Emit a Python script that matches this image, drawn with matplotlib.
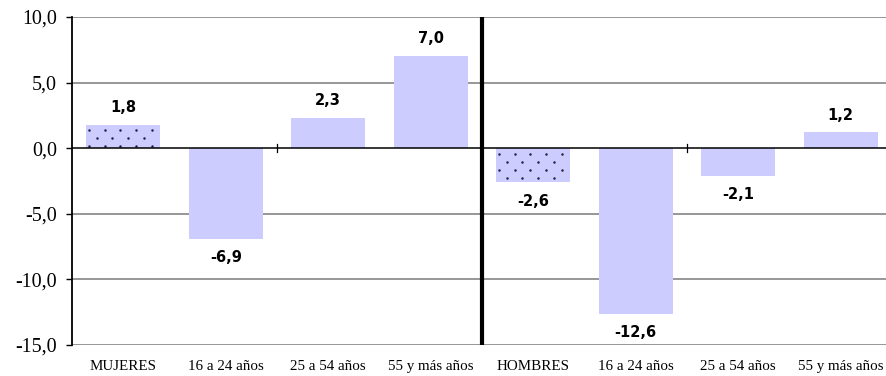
import matplotlib
matplotlib.use("Agg")
import matplotlib.pyplot as plt
import numpy as np

# Variación por sexo y grupo de edad
categories = ["MUJERES", "16 a 24 años", "25 a 54 años", "55 y más años",
              "HOMBRES", "16 a 24 años", "25 a 54 años", "55 y más años"]
values = [1.8, -6.9, 2.3, 7.0, -2.6, -12.6, -2.1, 1.2]
totals = [0, 4]          # barras de total (punteadas)
y_ticks = [-15, -10, -5, 0, 5, 10]

BAR = "#CCCCFF"
WIDTH = 0.72


def dot_fill(ax, xc, v, dx=0.153, dy=0.61):
    """Relleno punteado al tresbolillo dentro de una barra."""
    left, right = xc - WIDTH / 2, xc + WIDTH / 2
    rows = np.arange(0.42, abs(v), dy)
    px, py = [], []
    for k, r in enumerate(rows):
        start = left + 0.025 + (dx / 2 if k % 2 else 0)
        cols = np.arange(start, right - 0.01, dx)
        px.extend(cols)
        py.extend([v - r if v > 0 else -r] * len(cols))
    ax.scatter(px, py, s=3.2, color="#222244", linewidths=0, zorder=2.5)


fig = plt.figure(figsize=(8.86, 3.76), dpi=100)
ax = fig.add_axes([72 / 886, 31 / 376, 820 / 886, 328 / 376])

x = np.arange(len(categories))
ax.bar(x, values, width=WIDTH, color=BAR, linewidth=0, zorder=2)
for i in totals:
    dot_fill(ax, x[i], values[i])

for i, v in enumerate(values):
    off = 12.5 if v > 0 else -13.5
    ax.annotate(f"{v:.1f}".replace(".", ","), (x[i], v), xytext=(0, off),
                textcoords="offset points", ha="center", va="center",
                fontsize=10.5, fontweight="bold", family="DejaVu Sans", zorder=4)

ax.set_xlim(-0.5, len(categories) - 0.5)
ax.set_ylim(-15, 10)
ax.set_yticks(y_ticks)
ax.set_yticklabels([f"{t:.1f}".replace(".", ",") for t in y_ticks],
                   family="Liberation Serif", fontsize=14.4)
ax.tick_params(axis="y", length=4.3, width=1, direction="out", pad=6.5)

ax.set_xticks(x)
ax.set_xticklabels(categories, family="Liberation Serif", fontsize=10.8)
ax.tick_params(axis="x", length=0, pad=11)

# líneas de rejilla horizontales
for t in y_ticks:
    if t == 0:
        continue
    ax.axhline(t, color="#7a7a7a", linewidth=1.1, zorder=1)
ax.axhline(0, color="black", linewidth=1.1, zorder=3)

# marcas en el eje cero entre grupos de categorías
for b in [1.5, 5.5]:
    ax.plot([b, b], [-0.3, 0.3], color="black", linewidth=0.9, zorder=3)

# separación mujeres / hombres
ax.axvline(3.5, color="black", linewidth=3, zorder=3)

for s in ["top", "right", "bottom"]:
    ax.spines[s].set_visible(False)
ax.spines["left"].set_linewidth(1.3)

fig.savefig("out.png", dpi=100)
